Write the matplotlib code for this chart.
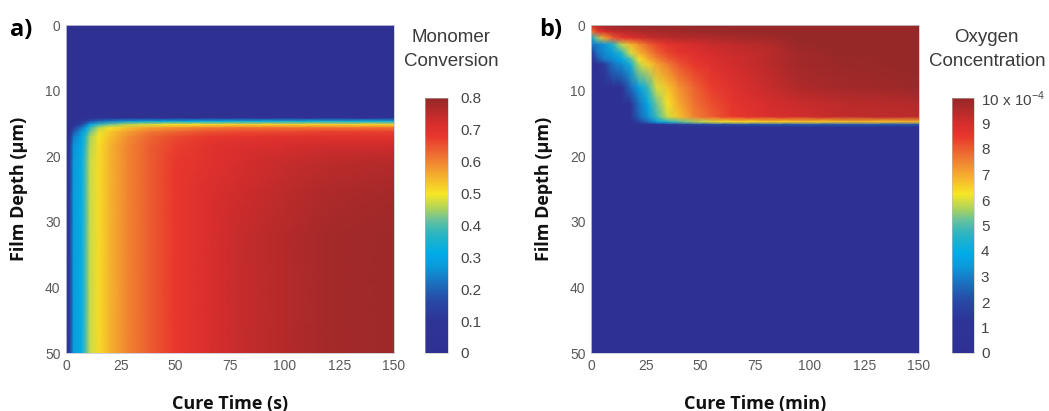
import numpy as np
import matplotlib
matplotlib.use("Agg")
import matplotlib.pyplot as plt
from matplotlib.colors import LinearSegmentedColormap, Normalize
from matplotlib.cm import ScalarMappable

# ---------------- data ----------------
# Panel a: monomer conversion vs cure time (s) and film depth (um)
cure_time_s = [0, 2, 3.5, 7, 9, 11, 15, 20, 28, 38, 50, 65, 80, 100, 120, 150]
depth_a_um = [0, 14.2, 14.7, 15.2, 15.7, 16.3, 17, 18.5, 21, 26, 32, 50]
conversion = [
    [0, 0, 0, 0, 0, 0, 0, 0, 0, 0, 0, 0, 0, 0, 0, 0],
    [0, 0, 0, 0, 0, 0, 0, 0, 0, 0, 0, 0, 0, 0, 0, 0],
    [0, 0, 0.02, 0.08, 0.12, 0.17, 0.21, 0.24, 0.27, 0.29, 0.30, 0.31, 0.32, 0.33, 0.33, 0.33],
    [0, 0.02, 0.06, 0.15, 0.21, 0.30, 0.38, 0.42, 0.46, 0.48, 0.50, 0.51, 0.52, 0.52, 0.52, 0.52],
    [0, 0.04, 0.12, 0.22, 0.29, 0.38, 0.46, 0.50, 0.54, 0.57, 0.59, 0.61, 0.62, 0.62, 0.62, 0.62],
    [0, 0.06, 0.18, 0.27, 0.33, 0.42, 0.49, 0.53, 0.57, 0.61, 0.63, 0.65, 0.66, 0.66, 0.67, 0.67],
    [0.01, 0.10, 0.23, 0.30, 0.37, 0.45, 0.50, 0.54, 0.59, 0.63, 0.66, 0.68, 0.69, 0.70, 0.70, 0.70],
    [0.02, 0.13, 0.26, 0.31, 0.39, 0.46, 0.51, 0.55, 0.60, 0.64, 0.67, 0.70, 0.71, 0.72, 0.73, 0.73],
    [0.03, 0.14, 0.27, 0.32, 0.40, 0.47, 0.51, 0.55, 0.60, 0.64, 0.68, 0.70, 0.72, 0.74, 0.75, 0.76],
    [0.03, 0.15, 0.28, 0.32, 0.40, 0.47, 0.51, 0.55, 0.60, 0.64, 0.68, 0.71, 0.73, 0.75, 0.77, 0.78],
    [0.03, 0.15, 0.28, 0.32, 0.40, 0.47, 0.51, 0.55, 0.60, 0.64, 0.68, 0.71, 0.74, 0.76, 0.78, 0.79],
    [0.03, 0.15, 0.28, 0.32, 0.40, 0.47, 0.51, 0.55, 0.60, 0.64, 0.68, 0.71, 0.74, 0.76, 0.78, 0.79],
]

# Panel b: oxygen concentration (units of 1e-4) vs cure time (min) and depth (um)
cure_time_min = [0, 3, 6, 10, 14, 18, 22, 26, 30, 35, 40, 47, 55, 65, 80, 95, 115, 150]
depth_b_um = [0, 1, 2, 3, 4.3, 5.2, 6, 9.5, 12, 14, 14.8, 15.2, 15.6, 50]
oxygen_e4 = [
    [9.3, 9.6, 9.8, 9.9, 10, 10, 10, 10, 10, 10, 10, 10, 10, 10, 10, 10, 10, 10],
    [7.5, 8.5, 9.0, 9.3, 9.4, 9.5, 9.6, 9.7, 9.7, 9.8, 9.8, 9.9, 9.9, 9.9, 10, 10, 10, 10],
    [3.5, 5.5, 7.0, 8.0, 8.5, 8.8, 9.0, 9.2, 9.3, 9.4, 9.5, 9.5, 9.6, 9.7, 9.8, 10, 10, 10],
    [2.8, 3.0, 3.3, 4.5, 5.8, 6.8, 7.4, 7.9, 8.3, 8.6, 8.8, 9.0, 9.2, 9.3, 9.5, 9.9, 10, 10],
    [1.0, 2.8, 3.1, 3.5, 4.6, 6.0, 6.9, 7.4, 7.9, 8.3, 8.6, 8.8, 9.0, 9.2, 9.4, 9.8, 10, 10],
    [0.2, 2.2, 2.9, 3.2, 3.8, 5.0, 6.3, 7.0, 7.5, 8.0, 8.3, 8.6, 8.9, 9.1, 9.4, 9.8, 9.9, 10],
    [0, 0.3, 1.5, 2.8, 3.2, 4.2, 5.8, 6.5, 7.1, 7.6, 8.1, 8.5, 8.8, 9.1, 9.4, 9.8, 9.9, 10],
    [0, 0, 0, 0, 0.5, 2.6, 3.6, 4.8, 6.0, 6.7, 7.3, 7.9, 8.4, 8.8, 9.2, 9.6, 9.8, 9.9],
    [0, 0, 0, 0, 0, 0.8, 2.8, 3.8, 5.3, 6.3, 7.0, 7.7, 8.2, 8.6, 9.0, 9.2, 9.4, 9.5],
    [0, 0, 0, 0, 0, 0.2, 2.5, 3.3, 4.8, 5.9, 6.7, 7.5, 8.0, 8.5, 8.9, 9.1, 9.3, 9.4],
    [0, 0, 0, 0, 0, 0.1, 1.8, 2.6, 3.5, 4.4, 5.0, 5.6, 6.0, 6.3, 6.5, 6.6, 6.7, 6.8],
    [0, 0, 0, 0, 0, 0, 0.5, 0.8, 1.1, 1.4, 1.6, 1.8, 2.0, 2.1, 2.2, 2.3, 2.3, 2.3],
    [0, 0, 0, 0, 0, 0, 0, 0, 0, 0, 0, 0, 0, 0, 0, 0, 0, 0],
    [0, 0, 0, 0, 0, 0, 0, 0, 0, 0, 0, 0, 0, 0, 0, 0, 0, 0],
]

time_ticks = [0, 25, 50, 75, 100, 125, 150]
depth_ticks = [0, 10, 20, 30, 40, 50]
conv_ticks = [0, 0.1, 0.2, 0.3, 0.4, 0.5, 0.6, 0.7, 0.8]
oxy_ticks = [0, 1, 2, 3, 4, 5, 6, 7, 8, 9, 10]
oxy_tick_labels = ["0", "1", "2", "3", "4", "5", "6", "7", "8", "9", "10 x 10$^{\\mathregular{-4}}$"]

# ---------------- style ----------------
plt.rcParams['font.family'] = ['Liberation Sans', 'DejaVu Sans']
plt.rcParams['mathtext.fontset'] = 'custom'
plt.rcParams['mathtext.rm'] = 'Liberation Sans'

jet_muted = LinearSegmentedColormap.from_list("jet_muted", [
    (0.00, (46/255, 49/255, 146/255)),
    (0.12, (46/255, 52/255, 150/255)),
    (0.20, (40/255, 72/255, 165/255)),
    (0.27, (28/255, 110/255, 190/255)),
    (0.34, (10/255, 155/255, 220/255)),
    (0.39, (0/255, 172/255, 232/255)),
    (0.46, (40/255, 180/255, 195/255)),
    (0.52, (100/255, 192/255, 160/255)),
    (0.57, (175/255, 212/255, 90/255)),
    (0.625, (247/255, 230/255, 38/255)),
    (0.69, (245/255, 180/255, 45/255)),
    (0.76, (240/255, 125/255, 50/255)),
    (0.85, (232/255, 55/255, 45/255)),
    (0.90, (215/255, 45/255, 45/255)),
    (1.00, (150/255, 40/255, 40/255)),
])

W, H = 1049, 411
fig = plt.figure(figsize=(W / 100, H / 100), dpi=100)
fig.patch.set_facecolor('white')

def px_axes(x0, y0, x1, y1):
    return fig.add_axes([x0 / W, 1 - y1 / H, (x1 - x0) / W, (y1 - y0) / H])

tick_color = '#5a5a5a'
label_font = ['Open Sans', 'DejaVu Sans']

def style_main(ax, xlabel):
    ax.set_xlim(0, 150)
    ax.set_ylim(50, 0)
    ax.set_xticks(time_ticks)
    ax.set_yticks(depth_ticks)
    ax.tick_params(length=0, labelsize=10, colors=tick_color, pad=4)
    for s in ax.spines.values():
        s.set_color('#c8c8d8')
        s.set_linewidth(0.6)
    ax.set_xlabel(xlabel, fontsize=13, fontweight='bold', family=label_font,
                  color='#111111', labelpad=16)
    ax.set_ylabel('Film Depth (μm)', fontsize=13, fontweight='bold',
                  family=label_font, color='#111111', labelpad=12)

# Panel a
ax_a = px_axes(66, 25, 394, 353)
Ta, Da = np.meshgrid(cure_time_s, depth_a_um)
norm_a = Normalize(0, 0.8)
ax_a.pcolormesh(Ta, Da, np.array(conversion), cmap=jet_muted, norm=norm_a,
                shading='gouraud', rasterized=True)
style_main(ax_a, 'Cure Time (s)')

cax_a = px_axes(425, 98, 448, 353)
cb_a = fig.colorbar(ScalarMappable(norm=norm_a, cmap=jet_muted), cax=cax_a, ticks=conv_ticks)
cb_a.ax.set_yticklabels([f"{v:g}" for v in conv_ticks])
cb_a.ax.tick_params(length=0, labelsize=11, colors='#444444', pad=9)
cb_a.outline.set_linewidth(0.4)
cb_a.outline.set_edgecolor('#bbbbbb')
fig.text(451 / W, 1 - 38 / H, 'Monomer', ha='center', va='center', fontsize=13.5, color='#3a3a3a')
fig.text(451 / W, 1 - 61 / H, 'Conversion', ha='center', va='center', fontsize=13.5, color='#3a3a3a')

# Panel b
ax_b = px_axes(591, 25, 919, 353)
Tb, Db = np.meshgrid(cure_time_min, depth_b_um)
norm_b = Normalize(0, 10)
ax_b.pcolormesh(Tb, Db, np.array(oxygen_e4), cmap=jet_muted, norm=norm_b,
                shading='gouraud', rasterized=True)
style_main(ax_b, 'Cure Time (min)')

cax_b = px_axes(952, 98, 974, 353)
cb_b = fig.colorbar(ScalarMappable(norm=norm_b, cmap=jet_muted), cax=cax_b, ticks=oxy_ticks)
cb_b.ax.set_yticklabels(oxy_tick_labels)
cb_b.ax.tick_params(length=0, labelsize=11, colors='#444444', pad=5)
cb_b.outline.set_linewidth(0.4)
cb_b.outline.set_edgecolor('#bbbbbb')
fig.text(986 / W, 1 - 38 / H, 'Oxygen', ha='center', va='center', fontsize=13.5, color='#3a3a3a')
fig.text(987 / W, 1 - 61 / H, 'Concentration', ha='center', va='center', fontsize=13.5, color='#3a3a3a')

# Panel letters
fig.text(21 / W, 1 - 30 / H, 'a)', ha='center', va='center', fontsize=17,
         fontweight='bold', family=label_font, color='black')
fig.text(551 / W, 1 - 30 / H, 'b)', ha='center', va='center', fontsize=17,
         fontweight='bold', family=label_font, color='black')

fig.savefig('out.png', dpi=100, facecolor='white')
